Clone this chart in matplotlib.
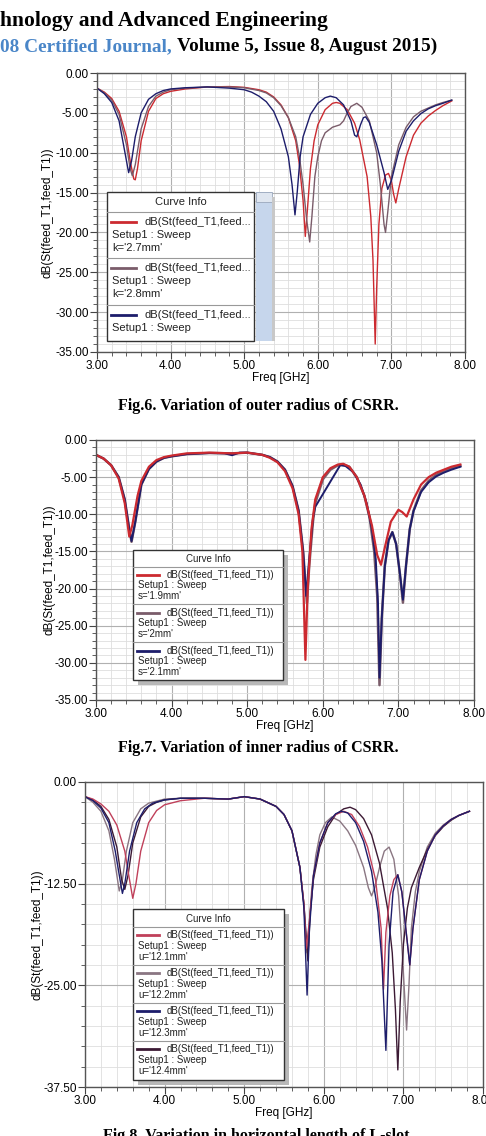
import matplotlib
matplotlib.use("Agg")
import matplotlib.pyplot as plt
from matplotlib.ticker import MultipleLocator, FormatStrFormatter
from matplotlib.patches import Rectangle

W, H = 486, 1136

# ---------------- Fig.6 : outer radius k ----------------
f_k27 = [3.0, 3.1, 3.2, 3.3, 3.4, 3.45, 3.5, 3.52, 3.55, 3.6, 3.7, 3.8, 3.9, 4.0, 4.2, 4.5, 4.8,
         5.0, 5.2, 5.3, 5.4, 5.5, 5.6, 5.7, 5.75, 5.8, 5.83, 5.86, 5.9, 5.95, 6.0, 6.1, 6.2, 6.25,
         6.3, 6.4, 6.5, 6.57, 6.67, 6.72, 6.75, 6.78, 6.8, 6.83, 6.87, 6.92, 6.96, 7.0, 7.03, 7.06,
         7.1, 7.2, 7.3, 7.4, 7.5, 7.6, 7.7, 7.82]
db_k27 = [-1.9, -2.4, -3.2, -4.8, -8.0, -11.0, -13.3, -13.4, -12.0, -8.5, -4.8, -3.2, -2.6, -2.3,
          -2.0, -1.75, -1.7, -1.8, -2.1, -2.4, -3.0, -4.0, -5.6, -8.5, -11.5, -16.0, -20.5, -17.0,
          -12.0, -8.5, -6.5, -4.6, -3.8, -3.7, -3.8, -4.6, -6.3, -8.4, -13.0, -18.0, -23.5, -34.0,
          -27.0, -19.0, -14.5, -12.8, -12.6, -13.5, -15.2, -16.3, -14.5, -10.5, -7.8, -6.3, -5.4,
          -4.7, -4.1, -3.5]
f_k28 = [3.0, 3.1, 3.2, 3.3, 3.4, 3.45, 3.48, 3.52, 3.6, 3.7, 3.8, 3.9, 4.0, 4.2, 4.5, 4.8, 5.0,
         5.2, 5.3, 5.4, 5.5, 5.6, 5.7, 5.75, 5.8, 5.85, 5.89, 5.92, 5.96, 6.0, 6.05, 6.1, 6.2, 6.3,
         6.35, 6.4, 6.45, 6.53, 6.6, 6.7, 6.8, 6.85, 6.9, 6.92, 6.95, 7.0, 7.1, 7.2, 7.3, 7.4, 7.5,
         7.6, 7.7, 7.82]
db_k28 = [-1.9, -2.5, -3.4, -5.2, -9.0, -12.0, -12.9, -11.5, -7.0, -4.2, -2.9, -2.4, -2.1, -1.9,
          -1.75, -1.75, -1.85, -2.2, -2.5, -3.1, -4.1, -5.6, -8.0, -10.5, -14.0, -18.5, -21.2,
          -18.0, -13.0, -10.5, -8.5, -7.5, -6.8, -6.5, -6.0, -5.0, -4.2, -3.8, -4.3, -6.0, -10.0,
          -14.0, -19.0, -20.0, -17.5, -13.0, -9.0, -6.8, -5.5, -4.8, -4.4, -4.0, -3.7, -3.4]
f_k29 = [3.0, 3.1, 3.2, 3.3, 3.38, 3.43, 3.47, 3.52, 3.6, 3.7, 3.8, 3.9, 4.0, 4.2, 4.5, 4.8, 5.0,
         5.1, 5.2, 5.3, 5.4, 5.5, 5.6, 5.65, 5.69, 5.72, 5.76, 5.8, 5.9, 6.0, 6.1, 6.17, 6.25, 6.35,
         6.45, 6.5, 6.53, 6.58, 6.62, 6.65, 6.7, 6.8, 6.9, 6.95, 7.0, 7.1, 7.2, 7.3, 7.4, 7.5, 7.6,
         7.7, 7.82]
db_k29 = [-1.9, -2.6, -3.7, -6.0, -10.0, -12.5, -11.0, -8.0, -5.0, -3.3, -2.6, -2.2, -2.0, -1.85,
          -1.75, -1.9, -2.1, -2.4, -2.9, -3.6, -4.8, -7.0, -10.5, -14.0, -17.8, -15.0, -10.5,
          -8.0, -5.2, -3.8, -3.1, -2.9, -3.1, -4.0, -6.0, -7.8, -8.0, -6.5, -5.6, -5.5, -6.2,
          -9.0, -12.5, -14.6, -13.5, -9.8, -7.3, -6.0, -5.1, -4.5, -4.1, -3.8, -3.4]

# ---------------- Fig.7 : inner radius s ----------------
f_s19 = [3.0, 3.1, 3.2, 3.3, 3.38, 3.44, 3.48, 3.55, 3.6, 3.7, 3.8, 3.9, 4.0, 4.2, 4.5, 4.8, 5.0,
         5.2, 5.3, 5.4, 5.5, 5.6, 5.68, 5.73, 5.77, 5.8, 5.85, 5.9, 6.0, 6.1, 6.2, 6.27, 6.35, 6.45,
         6.55, 6.65, 6.72, 6.77, 6.82, 6.9, 7.0, 7.05, 7.11, 7.2, 7.3, 7.4, 7.5, 7.6, 7.7, 7.82]
db_s19 = [-2.0, -2.5, -3.4, -5.2, -8.5, -13.0, -11.5, -7.5, -5.5, -3.6, -2.7, -2.3, -2.1, -1.8,
          -1.7, -1.8, -1.7, -2.0, -2.4, -3.0, -4.2, -6.5, -10.0, -15.0, -29.6, -20.0, -12.0,
          -8.0, -5.0, -3.8, -3.3, -3.2, -3.6, -5.0, -7.5, -11.5, -15.5, -16.8, -14.5, -11.0,
          -9.4, -9.7, -10.3, -8.0, -6.0, -5.0, -4.4, -4.0, -3.6, -3.3]
f_s20 = [3.0, 3.1, 3.2, 3.3, 3.38, 3.44, 3.47, 3.52, 3.6, 3.7, 3.8, 3.9, 4.0, 4.2, 4.5, 4.8, 5.0,
         5.2, 5.3, 5.4, 5.5, 5.6, 5.68, 5.74, 5.79, 5.82, 5.87, 5.9, 6.0, 6.1, 6.2, 6.27, 6.35,
         6.45, 6.55, 6.62, 6.68, 6.72, 6.75, 6.78, 6.82, 6.87, 6.92, 6.97, 7.02, 7.06, 7.1, 7.15,
         7.2, 7.3, 7.4, 7.5, 7.6, 7.7, 7.82]
db_s20 = [-2.0, -2.5, -3.4, -5.0, -8.0, -12.0, -13.7, -11.0, -6.0, -3.9, -2.9, -2.4, -2.2, -1.9,
          -1.75, -1.8, -1.7, -2.0, -2.3, -2.9, -4.0, -6.2, -9.5, -15.0, -22.0, -17.0, -11.0,
          -8.5, -5.3, -4.0, -3.4, -3.3, -3.6, -5.0, -7.5, -10.5, -15.0, -21.0, -33.0, -24.0,
          -17.0, -13.5, -12.4, -14.0, -18.0, -21.9, -17.0, -12.0, -9.5, -6.8, -5.5, -4.7, -4.2,
          -3.8, -3.5]
f_s21 = [3.0, 3.1, 3.2, 3.3, 3.38, 3.44, 3.47, 3.52, 3.6, 3.7, 3.8, 3.9, 4.0, 4.2, 4.5, 4.7, 4.8,
         4.9, 5.0, 5.2, 5.3, 5.4, 5.5, 5.6, 5.68, 5.74, 5.78, 5.82, 5.87, 5.9, 6.23, 6.3, 6.4,
         6.5, 6.58, 6.65, 6.7, 6.73, 6.75, 6.78, 6.82, 6.87, 6.92, 6.97, 7.02, 7.06, 7.1, 7.15,
         7.2, 7.3, 7.4, 7.5, 7.6, 7.7, 7.82]
db_s21 = [-2.0, -2.5, -3.4, -5.0, -8.0, -12.0, -13.6, -11.0, -6.0, -3.9, -2.9, -2.4, -2.2, -1.9,
          -1.75, -1.8, -2.05, -1.7, -1.7, -2.0, -2.3, -2.9, -4.0, -6.2, -9.5, -15.0, -21.0, -16.0,
          -10.5, -9.0, -3.4, -3.5, -4.3, -6.0, -8.5, -12.0, -16.0, -22.0, -32.0, -24.0, -17.0,
          -13.5, -12.4, -14.0, -18.0, -21.5, -17.0, -12.0, -9.6, -7.0, -5.7, -4.9, -4.4, -4.0,
          -3.6]

# ---------------- Fig.8 : horizontal length u ----------------
f_u121 = [3.0, 3.1, 3.2, 3.3, 3.4, 3.5, 3.55, 3.6, 3.64, 3.7, 3.8, 3.9, 4.0, 4.2, 4.5, 4.8, 5.0,
          5.2, 5.4, 5.5, 5.6, 5.7, 5.75, 5.78, 5.82, 5.87, 5.95, 6.05, 6.15, 6.25, 6.35, 6.45,
          6.55, 6.65, 6.72, 6.75, 6.78, 6.83, 6.88, 6.93, 6.98, 7.03, 7.08, 7.12, 7.2, 7.3, 7.4,
          7.5, 7.6, 7.7, 7.83]
db_u121 = [-1.8, -2.1, -2.7, -3.6, -5.3, -8.5, -11.5, -14.3, -12.5, -8.5, -5.0, -3.5, -2.8, -2.3,
           -2.0, -2.1, -1.8, -2.1, -3.0, -4.0, -6.0, -10.5, -15.0, -20.5, -17.0, -11.5, -7.5,
           -5.0, -4.0, -3.6, -4.0, -5.5, -8.0, -12.0, -18.0, -25.5, -18.5, -14.0, -12.0, -11.4,
           -13.5, -18.0, -22.5, -18.0, -12.0, -8.5, -6.5, -5.4, -4.6, -4.1, -3.6]
f_u122 = [3.0, 3.1, 3.2, 3.3, 3.37, 3.43, 3.47, 3.52, 3.6, 3.7, 3.8, 4.0, 4.2, 4.5, 4.8, 5.0,
          5.2, 5.4, 5.5, 5.6, 5.7, 5.75, 5.79, 5.85, 5.9, 5.95, 6.02, 6.1, 6.2, 6.3, 6.4, 6.5,
          6.56, 6.6, 6.64, 6.7, 6.76, 6.82, 6.88, 6.94, 6.98, 7.02, 7.04, 7.07, 7.1, 7.15, 7.2,
          7.3, 7.4, 7.5, 7.6, 7.7, 7.83]
db_u122 = [-1.8, -2.5, -3.6, -6.0, -9.5, -13.4, -12.0, -8.5, -5.0, -3.3, -2.6, -2.1, -2.0, -2.0,
           -2.1, -1.8, -2.1, -3.0, -4.0, -6.0, -10.5, -15.0, -21.0, -13.0, -9.0, -6.5, -5.0, -4.3,
           -4.8, -6.0, -7.8, -10.5, -13.0, -14.0, -13.0, -10.5, -8.5, -8.0, -9.5, -14.0, -20.0,
           -27.0, -30.5, -25.0, -18.0, -13.5, -11.0, -8.0, -6.3, -5.3, -4.6, -4.1, -3.6]
f_u123 = [3.0, 3.1, 3.2, 3.3, 3.38, 3.44, 3.47, 3.5, 3.56, 3.65, 3.75, 3.85, 4.0, 4.2, 4.5, 4.8,
          5.0, 5.2, 5.4, 5.5, 5.6, 5.7, 5.75, 5.79, 5.82, 5.87, 5.95, 6.05, 6.15, 6.22, 6.3, 6.4,
          6.5, 6.6, 6.68, 6.73, 6.78, 6.82, 6.87, 6.93, 6.98, 7.03, 7.08, 7.12, 7.2, 7.3, 7.4,
          7.5, 7.6, 7.7, 7.83]
db_u123 = [-1.8, -2.3, -3.2, -5.0, -8.5, -12.0, -13.7, -12.5, -8.5, -5.0, -3.3, -2.6, -2.2, -2.0,
           -2.0, -2.1, -1.8, -2.1, -3.0, -4.0, -6.0, -10.5, -15.5, -26.2, -18.0, -11.5, -7.5,
           -5.0, -3.9, -3.6, -3.8, -5.0, -7.3, -11.0, -16.0, -22.0, -33.0, -20.0, -13.5, -11.4,
           -13.5, -18.0, -22.5, -18.0, -12.0, -8.5, -6.5, -5.4, -4.6, -4.1, -3.6]
f_u124 = [3.0, 3.1, 3.2, 3.3, 3.4, 3.46, 3.5, 3.54, 3.6, 3.7, 3.8, 3.9, 4.0, 4.2, 4.5, 4.8, 5.0,
          5.2, 5.4, 5.5, 5.6, 5.7, 5.75, 5.8, 5.83, 5.87, 5.95, 6.05, 6.15, 6.25, 6.33, 6.4, 6.5,
          6.6, 6.7, 6.8, 6.86, 6.9, 6.93, 6.96, 7.0, 7.05, 7.1, 7.2, 7.3, 7.4, 7.5, 7.6, 7.7, 7.83]
db_u124 = [-1.8, -2.2, -3.0, -4.6, -8.0, -12.0, -13.2, -11.5, -7.5, -4.3, -3.0, -2.5, -2.2, -2.0,
           -2.0, -2.1, -1.8, -2.1, -3.0, -4.0, -6.0, -10.5, -15.0, -22.0, -16.0, -12.0, -8.0,
           -5.5, -4.0, -3.3, -3.1, -3.4, -4.5, -6.5, -10.0, -15.5, -21.0, -28.0, -35.4, -27.0,
           -20.0, -15.5, -13.0, -10.5, -8.3, -6.6, -5.5, -4.7, -4.1, -3.6]

RED, GRAY, NAVY, MAROON = "#cc2a30", "#7a5c6a", "#1d1d6b", "#3c1a34"

charts = [
    dict(box=(97, 73, 465, 352), ylim=-35, ymaj=5, ymin=1,
         curves=[(f_k27, db_k27, RED, 1.0), (f_k28, db_k28, GRAY, 1.0), (f_k29, db_k29, NAVY, 1.0)],
         ylab_x=53),
    dict(box=(96, 440, 474, 700), ylim=-35, ymaj=5, ymin=1,
         curves=[(f_s20, db_s20, GRAY, 1.8), (f_s21, db_s21, NAVY, 1.4), (f_s19, db_s19, RED, 1.6)],
         ylab_x=56),
    dict(box=(85, 782, 483, 1087), ylim=-37.5, ymaj=12.5, ymin=2.5,
         curves=[(f_u122, db_u122, "#8a7682", 1.0), (f_u124, db_u124, MAROON, 1.0),
                 (f_u121, db_u121, "#c0405a", 1.0), (f_u123, db_u123, NAVY, 1.0)],
         ylab_x=44),
]

fig = plt.figure(figsize=(W / 100, H / 100), dpi=100)
fig.patch.set_facecolor("white")
plt.rcParams["font.family"] = ["Liberation Sans", "DejaVu Sans"]

for c in charts:
    l, t, r, b = c["box"]
    ax = fig.add_axes([l / W, 1 - b / H, (r - l) / W, (b - t) / H])
    for f, d, col, lw in c["curves"]:
        ax.plot(f, d, color=col, lw=lw)
    ax.set_xlim(3, 8)
    ax.set_ylim(c["ylim"], 0)
    ax.xaxis.set_major_locator(MultipleLocator(1))
    ax.xaxis.set_minor_locator(MultipleLocator(0.2))
    ax.yaxis.set_major_locator(MultipleLocator(c["ymaj"]))
    ax.yaxis.set_minor_locator(MultipleLocator(c["ymin"]))
    ax.xaxis.set_major_formatter(FormatStrFormatter("%.2f"))
    ax.yaxis.set_major_formatter(FormatStrFormatter("%.2f"))
    ax.grid(which="major", color="#b0b0b0", lw=0.8)
    ax.grid(which="minor", color="#dedede", lw=0.6)
    ax.set_axisbelow(True)
    ax.tick_params(which="major", length=5, color="#444444", labelsize=8.5, pad=1)
    ax.tick_params(which="minor", length=3, color="#444444")
    for s in ax.spines.values():
        s.set_color("#555555")
        s.set_linewidth(1.0)
    ax.set_xlabel("Freq [GHz]", fontsize=8.5, labelpad=0)
    ax.set_ylabel("dB(St(feed_T1,feed_T1))", fontsize=8.5)
    ax.yaxis.set_label_coords((c["ylab_x"] - l) / (r - l), 0.5)

# overlay in pixel coordinates for page text and legends
ov = fig.add_axes([0, 0, 1, 1], zorder=10)
ov.set_xlim(0, W)
ov.set_ylim(H, 0)
ov.axis("off")

serif = ["Liberation Serif", "DejaVu Serif"]
ov.text(0, 26, "hnology and Advanced Engineering", family=serif, weight="bold", fontsize=15.5,
        color="black", va="baseline")
t1 = ov.text(0, 51, "08 Certified Journal, ", family=serif, weight="bold", fontsize=13.9,
             color="#4a86c8", va="baseline")
fig.canvas.draw()
bb = t1.get_window_extent()
ov.text(bb.x1, 51, "Volume 5, Issue 8, August 2015)", family=serif, weight="bold", fontsize=13.9,
        color="black", va="baseline")

ov.text(258, 410, "Fig.6. Variation of outer radius of CSRR.", family=serif, weight="bold",
        fontsize=11.5, ha="center", va="baseline")
ov.text(258, 752, "Fig.7. Variation of inner radius of CSRR.", family=serif, weight="bold",
        fontsize=11.5, ha="center", va="baseline")
ov.text(256, 1140, "Fig.8. Variation in horizontal length of L-slot", family=serif, weight="bold",
        fontsize=11.5, ha="center", va="baseline")


def legend(x0, x1, y0, y1, rows, hdr_y, sep_ys, fs, line_x, text_x, setup_x, shadow=True):
    if shadow:
        ov.add_patch(Rectangle((x0 + 5, y0 + 5), x1 - x0, y1 - y0, color="#b8b8b8", lw=0))
    ov.add_patch(Rectangle((x0, y0), x1 - x0, y1 - y0, facecolor="white", edgecolor="#333333",
                           lw=1.0))
    ov.text((x0 + x1) / 2, hdr_y, "Curve Info", fontsize=fs, ha="center", va="center",
            color="#222222")
    for sy in sep_ys:
        ov.plot([x0, x1], [sy, sy], color="#999999", lw=0.8)
    for ys, col, name, lab in rows:
        ov.plot(line_x, [ys[0], ys[0]], color=col, lw=2)
        ov.text(text_x, ys[0], name, fontsize=fs, va="center", color="#222222")
        if len(ys) > 1:
            ov.text(setup_x, ys[1], "Setup1 : Sweep", fontsize=fs, va="center", color="#222222")
        if len(ys) > 2:
            ov.text(setup_x, ys[2], lab, fontsize=fs, va="center", color="#222222")


# Fig.6 legend (clipped, with scroll bar)
ov.add_patch(Rectangle((256, 192), 16, 149, color="#c6d6ec", lw=0))
ov.add_patch(Rectangle((256, 192), 16, 10, facecolor="#dfe6f0", edgecolor="#9aa8bc", lw=0.6))
ov.add_patch(Rectangle((272, 197), 3, 144, color="#c8c8c8", lw=0))
legend(107, 254, 192, 341,
       [((222, 235, 248), RED, "dB(St(feed_T1,feed...", "k='2.7mm'"),
        ((268, 281, 294), GRAY, "dB(St(feed_T1,feed...", "k='2.8mm'"),
        ((315, 328), NAVY, "dB(St(feed_T1,feed...", "")],
       202, [212, 258, 305], 8, [111, 136], 144, 112, shadow=False)

# Fig.7 legend
legend(133, 283, 550, 680,
       [((575, 585, 596), RED, "dB(St(feed_T1,feed_T1))", "s='1.9mm'"),
        ((613, 623, 634), GRAY, "dB(St(feed_T1,feed_T1))", "s='2mm'"),
        ((651, 661, 672), NAVY, "dB(St(feed_T1,feed_T1))", "s='2.1mm'")],
       559, [567, 604, 642], 7, [137, 159], 167, 138)

# Fig.8 legend
legend(133, 284, 909, 1080,
       [((935, 946, 957), "#c0405a", "dB(St(feed_T1,feed_T1))", "u='12.1mm'"),
        ((973, 984, 995), "#8a7682", "dB(St(feed_T1,feed_T1))", "u='12.2mm'"),
        ((1011, 1022, 1033), NAVY, "dB(St(feed_T1,feed_T1))", "u='12.3mm'"),
        ((1049, 1060, 1071), MAROON, "dB(St(feed_T1,feed_T1))", "u='12.4mm'")],
       919, [927, 965, 1003, 1041], 7, [137, 159], 167, 138)

fig.savefig("out.png", dpi=100, facecolor="white")
